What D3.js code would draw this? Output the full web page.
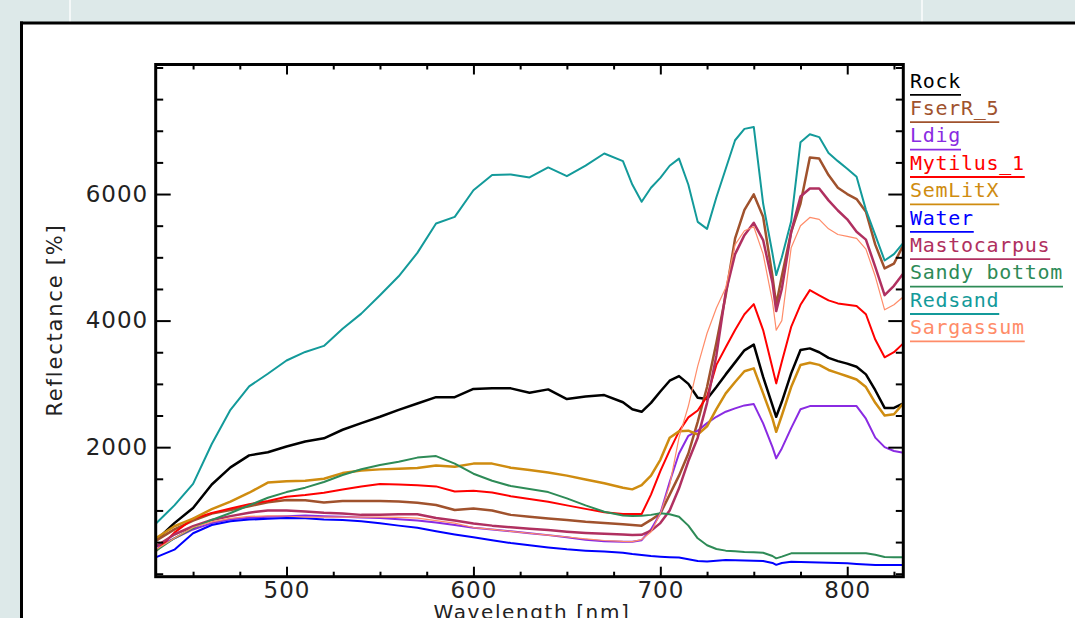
<!DOCTYPE html>
<html>
<head>
<meta charset="utf-8">
<script src="https://cdn.jsdelivr.net/npm/d3@7"></script>
<style>
  body { margin: 0; background: #dde9e9; overflow: hidden; }
</style>
</head>
<body>
<div id="chart"></div>
<script>
// wavelength grid [nm]
var wavelengths = [430,440,450,460,470,480,490,500,510,520,530,540,550,560,570,580,590,600,610,620,630,640,650,660,670,680,
  685,690,695,700,705,710,715,720,725,730,735,740,745,750,755,760,762,
  765,770,775,780,785,790,795,800,805,810,815,820,825,830];

var rock = [520,800,1040,1410,1680,1870,1920,2010,2090,2140,2275,2380,2480,2590,2690,2790,2790,2920,2929,2929,2860,2913,2760,2800,2823,2710,
  2600,2559,2700,2880,3050,3123,3000,2780,2760,2950,3150,3340,3530,3620,3110,2660,2480,
  2717,3166,3534,3561,3500,3410,3360,3320,3270,3150,2900,2620,2620,2692];
var fserR5 = [520,700,840,950,1006,1065,1130,1164,1160,1125,1148,1148,1148,1140,1120,1085,1006,1030,1000,930,900,874,850,820,800,780,
  770,760,850,950,1250,1550,1900,2400,2950,3650,4400,5300,5750,5994,5640,4700,4250,
  4700,5400,5850,6578,6560,6300,6100,6000,5920,5720,5200,4825,4900,5193];
var ldig = [420,560,700,800,860,885,900,910,920,910,900,890,880,860,840,810,770,725,700,670,640,610,575,535,515,506,
  506,530,700,950,1450,1900,2180,2260,2380,2480,2560,2613,2660,2681,2376,2000,1823,
  1980,2300,2600,2649,2649,2649,2649,2649,2649,2450,2150,2000,1940,1912];
var mytilus1 = [350,650,870,960,1030,1100,1150,1217,1243,1280,1330,1380,1417,1410,1400,1380,1300,1310,1285,1225,1180,1138,1080,1025,970,943,
  943,943,1250,1620,1950,2250,2470,2580,2800,3300,3580,3850,4100,4260,3850,3250,3008,
  3350,3900,4250,4482,4400,4320,4272,4250,4230,4100,3700,3420,3500,3640];
var semLitX = [560,750,870,1020,1140,1280,1440,1460,1470,1500,1590,1630,1649,1660,1670,1710,1690,1740,1740,1675,1640,1600,1550,1490,1430,1360,
  1333,1400,1550,1800,2150,2250,2260,2200,2330,2600,2850,3030,3200,3245,2850,2450,2243,
  2500,2950,3297,3333,3300,3220,3170,3120,3070,2950,2700,2500,2520,2692];
var water = [259,380,640,770,830,855,870,880,875,855,850,830,796,760,725,670,620,575,530,485,450,415,385,365,350,330,
  310,295,280,270,262,255,230,200,195,205,216,212,210,207,200,170,140,
  170,188,185,180,176,174,170,165,155,145,137,137,137,137];
var mastocarpus = [430,620,750,850,910,965,1000,1000,985,964,950,930,930,940,940,880,840,795,760,735,710,690,665,645,630,618,
  612,615,680,800,1000,1350,1780,2150,2700,3450,4450,5050,5350,5545,5272,4600,4150,
  4500,5400,5960,6088,6088,5900,5740,5600,5403,5280,4850,4403,4550,4746];
var sandyBottom = [360,560,720,850,960,1080,1200,1290,1360,1450,1560,1650,1717,1770,1835,1859,1740,1580,1470,1385,1340,1290,1190,1080,980,920,
  912,915,930,954,940,900,760,560,450,390,365,355,345,340,332,280,243,
  270,322,322,322,322,322,322,322,322,322,300,265,259,259];
var redsand = [790,1080,1420,2050,2590,2960,3160,3370,3505,3600,3870,4110,4400,4700,5070,5535,5640,6060,6300,6310,6262,6420,6283,6450,6641,6520,
  6150,5877,6100,6255,6447,6560,6147,5560,5450,5950,6400,6850,7030,7060,5850,5060,4719,
  5000,5570,6820,6946,6900,6650,6520,6400,6272,5750,5350,4950,5050,5229];
var sargassum = [380,560,730,820,875,905,915,912,895,895,895,895,893,891,880,840,800,730,700,670,640,610,580,550,525,510,
  506,540,660,950,1400,2150,2650,3280,3800,4200,4520,5200,5420,5482,5050,4300,3850,
  4000,5150,5500,5630,5600,5450,5360,5330,5299,5130,4700,4170,4250,4376];

var names = ["Rock","FserR_5","Ldig","Mytilus_1","SemLitX","Water","Mastocarpus","Sandy bottom","Redsand","Sargassum"];
var colors = ["#000000","#a0522d","#8a2be2","#ff0000","#cf8c10","#0000ff","#b03060","#2e8b57","#139a9a","#ff8c69"];
var widths = [2.5,2.5,2,2,2.5,2,2.5,2,2,1.2];
var values = [rock,fserR5,ldig,mytilus1,semLitX,water,mastocarpus,sandyBottom,redsand,sargassum];

var xMajor = [500,600,700,800];
var xMinor = [450,475,525,550,575,625,650,675,725,750,775,825];
var yMajor = [2000,4000,6000];
var yMinor = [0,500,1000,1500,2500,3000,3500,4500,5000,5500,6500,7000,7500,8000];

var W = 1075, H = 618;
var plot = { left: 155.7, right: 903.3, top: 64.5, bottom: 576.7 };

var svg = d3.select("#chart").append("svg")
    .attr("width", W)
    .attr("height", H);

// window background and panel
svg.append("rect").attr("width", W).attr("height", H).attr("fill", "#dde9e9");
svg.append("line").attr("x1", 70).attr("x2", 70).attr("y1", 0).attr("y2", 22)
    .attr("stroke", "#f4f8f8").attr("stroke-width", 2);
svg.append("line").attr("x1", 922).attr("x2", 922).attr("y1", 0).attr("y2", 22)
    .attr("stroke", "#f4f8f8").attr("stroke-width", 2);
svg.append("rect").attr("x", 21).attr("y", 23).attr("width", W).attr("height", H)
    .attr("fill", "#ffffff");
svg.append("line").attr("x1", 21.5).attr("x2", 21.5).attr("y1", 21.5).attr("y2", H)
    .attr("stroke", "#000").attr("stroke-width", 3);
svg.append("line").attr("x1", 20).attr("x2", W).attr("y1", 23).attr("y2", 23)
    .attr("stroke", "#000").attr("stroke-width", 3);

var x = d3.scaleLinear().domain([430, 830]).range([plot.left, plot.right]);
var y = d3.scaleLinear().domain([-47, 8047]).range([plot.bottom, plot.top]);

svg.append("clipPath").attr("id", "clip")
  .append("rect")
    .attr("x", plot.left).attr("y", plot.top)
    .attr("width", plot.right - plot.left).attr("height", plot.bottom - plot.top);

// spectra
var line = d3.line()
    .x(function(d, i) { return x(wavelengths[i]); })
    .y(function(d) { return y(d); });

svg.append("g").attr("clip-path", "url(#clip)")
  .selectAll("path")
  .data(values)
  .enter().append("path")
    .attr("fill", "none")
    .attr("stroke", function(d, i) { return colors[i]; })
    .attr("stroke-width", function(d, i) { return widths[i]; })
    .attr("stroke-linejoin", "round")
    .attr("d", line);

// axes (ticks point inward)
function styleAxis(g, fontSize) {
  g.select(".domain").remove();
  g.selectAll(".tick line").attr("stroke", "#000").attr("stroke-width", 2);
  g.selectAll("text")
    .attr("fill", "#222")
    .style("font-family", "'DejaVu Sans', sans-serif")
    .style("font-size", fontSize + "px")
    .style("letter-spacing", "1px");
}

var fmt = d3.format("d");

svg.append("g").attr("transform", "translate(0," + plot.bottom + ")")
    .call(d3.axisBottom(x).tickValues(xMajor).tickFormat(fmt).tickSizeInner(-10).tickSizeOuter(0).tickPadding(5))
    .call(styleAxis, 23);
svg.append("g").attr("transform", "translate(0," + plot.bottom + ")")
    .call(d3.axisBottom(x).tickValues(xMinor).tickSizeInner(-5).tickSizeOuter(0).tickFormat(""))
    .call(styleAxis, 10);
svg.append("g").attr("transform", "translate(0," + plot.top + ")")
    .call(d3.axisTop(x).tickValues(xMajor).tickSizeInner(-10).tickSizeOuter(0).tickFormat(""))
    .call(styleAxis, 10);
svg.append("g").attr("transform", "translate(0," + plot.top + ")")
    .call(d3.axisTop(x).tickValues(xMinor).tickSizeInner(-5).tickSizeOuter(0).tickFormat(""))
    .call(styleAxis, 10);

svg.append("g").attr("transform", "translate(" + plot.left + ",0)")
    .call(d3.axisLeft(y).tickValues(yMajor).tickFormat(fmt).tickSizeInner(-15).tickSizeOuter(0).tickPadding(7.5))
    .call(styleAxis, 23);
svg.append("g").attr("transform", "translate(" + plot.left + ",0)")
    .call(d3.axisLeft(y).tickValues(yMinor).tickSizeInner(-7.5).tickSizeOuter(0).tickFormat(""))
    .call(styleAxis, 10);
svg.append("g").attr("transform", "translate(" + plot.right + ",0)")
    .call(d3.axisRight(y).tickValues(yMajor).tickSizeInner(-15).tickSizeOuter(0).tickFormat(""))
    .call(styleAxis, 10);
svg.append("g").attr("transform", "translate(" + plot.right + ",0)")
    .call(d3.axisRight(y).tickValues(yMinor).tickSizeInner(-7.5).tickSizeOuter(0).tickFormat(""))
    .call(styleAxis, 10);

// frame
svg.append("rect")
    .attr("x", plot.left).attr("y", plot.top)
    .attr("width", plot.right - plot.left).attr("height", plot.bottom - plot.top)
    .attr("fill", "none").attr("stroke", "#000").attr("stroke-width", 3);

// axis titles
svg.append("text")
    .attr("x", 532).attr("y", 619)
    .attr("text-anchor", "middle")
    .attr("fill", "#222")
    .style("font-family", "'DejaVu Sans', sans-serif")
    .style("font-size", "20px")
    .style("letter-spacing", "1.6px")
    .text("Wavelength [nm]");

svg.append("text")
    .attr("transform", "translate(62,320) rotate(-90)")
    .attr("text-anchor", "middle")
    .attr("fill", "#222")
    .style("font-family", "'DejaVu Sans', sans-serif")
    .style("font-size", "21px")
    .style("letter-spacing", "1.8px")
    .text("Reflectance [%]");

// legend: coloured, underlined names
var legend = svg.append("g").selectAll("g")
    .data(names)
    .enter().append("g")
    .attr("transform", function(d, i) { return "translate(910," + (87.5 + i * 27.4) + ")"; });

legend.append("text")
    .attr("fill", function(d, i) { return colors[i]; })
    .style("font-family", "'DejaVu Sans Mono', monospace")
    .style("font-size", "20px")
    .style("letter-spacing", "0.7px")
    .text(function(d) { return d; });

legend.append("line")
    .attr("x1", 0)
    .attr("x2", function(d) { return d.length * 12.75; })
    .attr("y1", 7.3).attr("y2", 7.3)
    .attr("stroke", function(d, i) { return colors[i]; })
    .attr("stroke-width", 1.8);
</script>
</body>
</html>
